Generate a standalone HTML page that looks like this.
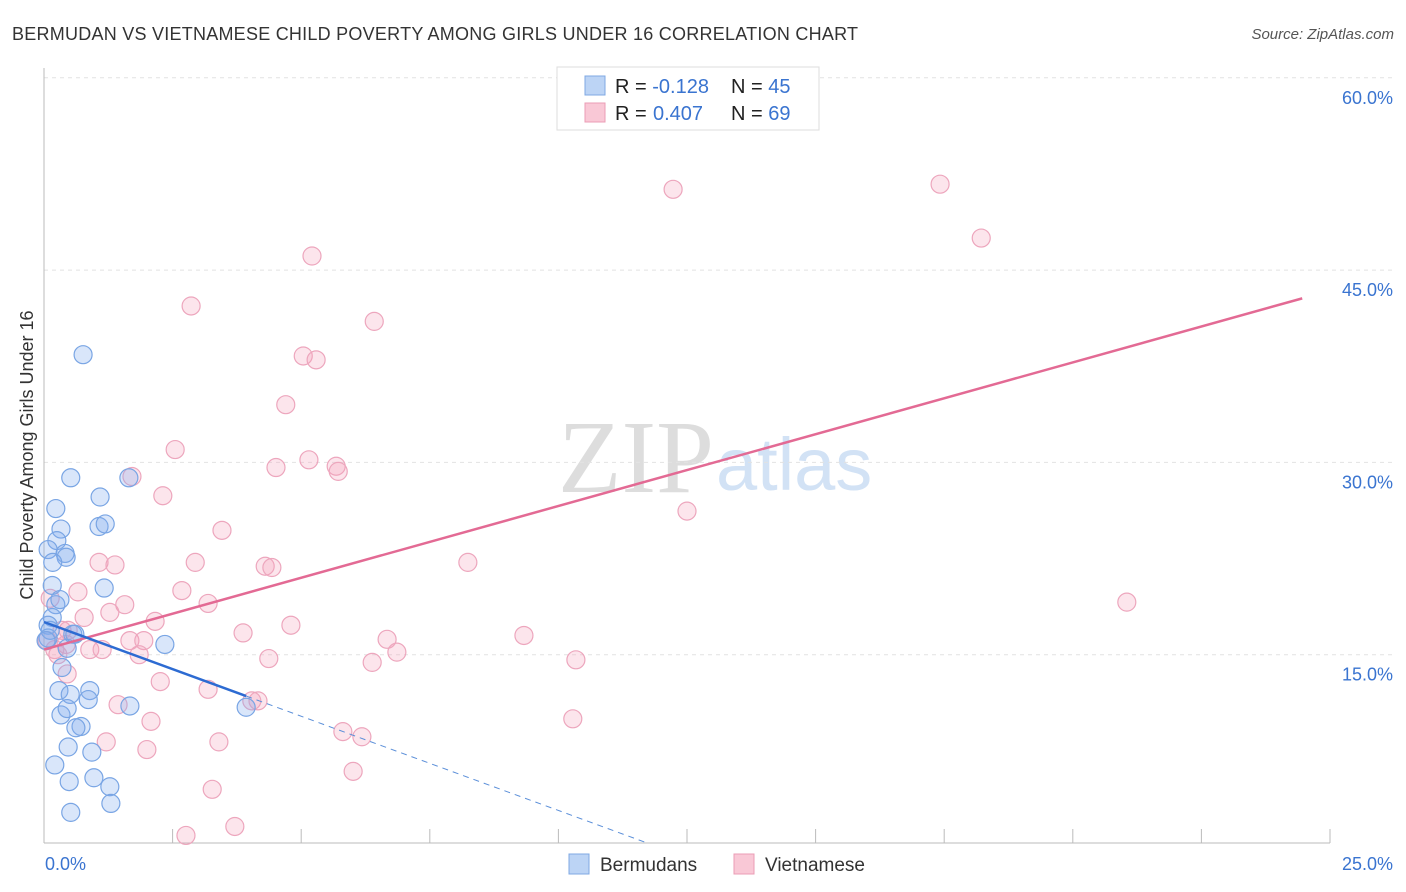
<!DOCTYPE html>
<html><head><meta charset="utf-8"><style>
body{margin:0;background:#fff;font-family:"Liberation Sans",sans-serif;}
svg{display:block}
</style></head><body>
<svg id="chart" width="1406" height="892" xmlns="http://www.w3.org/2000/svg">
<text x="12" y="40" font-size="18" fill="#333" textLength="846">BERMUDAN VS VIETNAMESE CHILD POVERTY AMONG GIRLS UNDER 16 CORRELATION CHART</text>
<text x="1394" y="39" font-size="15" fill="#555" font-style="italic" text-anchor="end">Source: ZipAtlas.com</text>
<text x="714" y="492" font-size="104" fill="#ddd" text-anchor="end" font-family="Liberation Serif,serif">ZIP</text>
<text x="716" y="490" font-size="74" fill="#d2e2f5">atlas</text>
<text transform="translate(33,455) rotate(-90)" font-size="18" fill="#333" text-anchor="middle">Child Poverty Among Girls Under 16</text>
<g id="grid"></g><g id="axes"></g><g id="marks"></g><g id="lines"></g>
<g>
<rect x="557" y="67" width="262" height="63" fill="#fff" stroke="#ddd"/>
<rect x="585" y="76" width="20" height="19" fill="#bcd4f5" stroke="#7fa8e3"/>
<rect x="585" y="103" width="20" height="19" fill="#f9c8d6" stroke="#eb9db5"/>
<text x="615" y="93" font-size="20" fill="#222">R = <tspan fill="#3a74d0">-0.128</tspan><tspan x="731">N = </tspan><tspan fill="#3a74d0">45</tspan></text>
<text x="615" y="120" font-size="20" fill="#222">R = <tspan fill="#3a74d0" x="653">0.407</tspan><tspan x="731">N = </tspan><tspan fill="#3a74d0">69</tspan></text>
</g>
<g>
<rect x="569" y="854" width="20" height="20" fill="#bcd4f5" stroke="#7fa8e3"/>
<text x="600" y="871" font-size="19" fill="#333">Bermudans</text>
<rect x="734" y="854" width="20" height="20" fill="#f9c8d6" stroke="#eb9db5"/>
<text x="765" y="871" font-size="19" fill="#333">Vietnamese</text>
</g>
</svg>
<script>
const blueX=[0.76,0.52,1.09,0.23,1.07,1.19,0.33,0.25,0.08,0.41,0.43,0.17,0.16,0.23,0.16,0.08,0.56,0.45,0.08,2.35,0.35,0.29,0.51,0.89,0.86,0.33,0.45,0.72,0.62,0.47,0.93,1.65,1.17,1.67,3.93,0.21,0.49,0.97,1.28,0.52,1.30,0.12,0.04,0.60,0.31];
const blueY=[38.4,28.8,27.3,26.4,25.0,25.2,24.8,23.9,23.2,22.9,22.6,22.2,20.4,18.9,17.9,17.3,16.6,15.5,16.3,15.8,14.0,12.2,11.9,12.2,11.5,10.3,10.8,9.4,9.3,7.8,7.4,28.8,20.2,11.0,10.9,6.4,5.1,5.4,4.7,2.7,3.4,16.9,16.1,16.6,19.3];
const pinkX=[5.21,2.86,6.42,5.04,5.29,4.70,2.55,4.51,5.15,5.68,5.72,2.31,1.71,3.46,1.07,1.38,2.94,4.30,4.43,2.68,3.19,1.57,0.66,2.16,1.28,0.78,4.80,3.87,1.67,1.94,6.67,6.86,0.35,0.43,0.89,1.13,0.27,1.85,4.37,6.38,0.45,2.26,3.19,1.44,4.16,4.04,2.08,5.81,6.18,1.21,3.40,2.00,6.01,3.27,3.71,2.76,12.23,17.42,18.22,12.50,8.24,9.33,10.34,10.28,21.05,0.12,0.21,0.47,0.06];
const pinkY=[46.1,42.2,41.0,38.3,38.0,34.5,31.0,29.6,30.2,29.7,29.3,27.4,28.9,24.7,22.2,22.0,22.2,21.9,21.8,20.0,19.0,18.9,19.9,17.6,18.3,17.9,17.3,16.7,16.1,16.1,16.2,15.2,16.9,15.8,15.4,15.4,15.0,15.0,14.7,14.4,13.5,12.9,12.3,11.1,11.4,11.4,9.8,9.0,8.6,8.2,8.2,7.6,5.9,4.5,1.6,0.9,51.3,51.7,47.5,26.2,22.2,16.5,14.6,10.0,19.1,19.4,15.4,16.9,16.1];
const yTicks=[15,30,45,60];
const yTickLabels=["15.0%","30.0%","45.0%","60.0%"];
const xTickLabels=["0.0%","25.0%"];
const blueFit=[17.55,-1.47]; // intercept, slope
const pinkFit=[15.4,1.12];
const blueSolidEnd=3.93, blueDashEnd=11.7, pinkEnd=24.46;

const NS="http://www.w3.org/2000/svg";
const X=v=>44+v/25*1286;
const Y=v=>847-v/15*192.3;
function mk(tag,attrs,parent){const e=document.createElementNS(NS,tag);for(const k in attrs)e.setAttribute(k,attrs[k]);document.getElementById(parent).appendChild(e);return e;}
yTicks.forEach((t,i)=>{
  const l=mk('line',{x1:44,x2:1393,y1:Y(t),y2:Y(t),stroke:'#e2e2e2','stroke-dasharray':'4,4'},'grid');
  
  
  const tx=mk('text',{x:1393,y:Y(t)+26,'font-size':18,fill:'#3a74d0','text-anchor':'end'},'axes');
  tx.textContent=yTickLabels[i];
  
  
});
const ax=mk('line',{x1:44,x2:1330,y1:843,y2:843,stroke:'#bbb'},'axes');


const ay=mk('line',{x1:44,x2:44,y1:68,y2:843,stroke:'#bbb'},'axes');


for(let i=1;i<=10;i++){
  const t=mk('line',{x1:X(i*2.5),x2:X(i*2.5),y1:829,y2:843,stroke:'#bbb'},'axes');
  
  
}
const xl0=mk('text',{x:45,y:870,'font-size':18,fill:'#3a74d0'},'axes');xl0.textContent=xTickLabels[0];


const xl1=mk('text',{x:1393,y:870,'font-size':18,fill:'#3a74d0','text-anchor':'end'},'axes');xl1.textContent=xTickLabels[1];


pinkX.forEach((v,i)=>{
  const c=mk('circle',{cx:X(v),cy:Y(pinkY[i]),r:9,fill:'rgba(244,160,188,0.28)',stroke:'#eda6bd','stroke-width':1.2},'marks');
  
  
});
blueX.forEach((v,i)=>{
  const c=mk('circle',{cx:X(v),cy:Y(blueY[i]),r:9,fill:'rgba(130,172,238,0.3)',stroke:'#79a5e4','stroke-width':1.2},'marks');
  
  
});
const f=(fit,x)=>fit[0]+fit[1]*x;
const pl=mk('line',{x1:X(0),y1:Y(f(pinkFit,0)),x2:X(pinkEnd),y2:Y(f(pinkFit,pinkEnd)),stroke:'#e36a94','stroke-width':2.5},'lines');


const bl=mk('line',{x1:X(0),y1:Y(f(blueFit,0)),x2:X(blueSolidEnd),y2:Y(f(blueFit,blueSolidEnd)),stroke:'#2d6bd2','stroke-width':2.5},'lines');


const bd=mk('line',{x1:X(blueSolidEnd),y1:Y(f(blueFit,blueSolidEnd)),x2:X(blueDashEnd),y2:Y(f(blueFit,blueDashEnd)),stroke:'#5b8fd9','stroke-width':1,'stroke-dasharray':'6,5'},'lines');


</script>
</body></html>
